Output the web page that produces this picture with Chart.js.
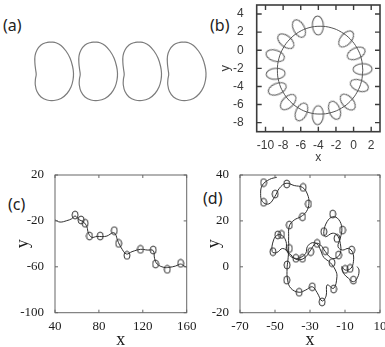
<!DOCTYPE html>
<html>
<head>
<meta charset="utf-8">
<script src="https://cdn.jsdelivr.net/npm/chart.js@4.4.1/dist/chart.umd.min.js"></script>
<style>
  html, body { margin: 0; padding: 0; background: #fff; }
  body { width: 385px; height: 347px; position: relative; overflow: hidden; }
  canvas { position: absolute; }
  .tag { position: absolute; font-family: 'Noto Sans', sans-serif; font-size: 16px; line-height: 16px; color: #222; }
</style>
</head>
<body>
<div class="tag" style="left:3px;top:17px">(a)</div>
<div class="tag" style="left:210px;top:17px">(b)</div>
<div class="tag" style="left:8px;top:196px">(c)</div>
<div class="tag" style="left:203px;top:190px">(d)</div>
<canvas id="chartA" width="180" height="66" style="left:30px;top:38px"></canvas>
<canvas id="chartB" width="185" height="165" style="left:200px;top:0px"></canvas>
<canvas id="chartC" width="200" height="190" style="left:0px;top:165px"></canvas>
<canvas id="chartD" width="195" height="190" style="left:190px;top:165px"></canvas>
<script>
// (a) one cell outline, repeated four times along x
const kidneyX = [17, 22, 27, 32, 36, 38.5, 39.5, 39, 37, 33, 27, 20, 13, 7, 3, 1.3, 1.4, 2.2, 1.6, 0.9, 1, 3, 7, 12, 17];
const kidneyY = [0, 0.8, 3.5, 9, 16, 24, 31, 38, 45, 51.5, 56.5, 58.5, 58, 55, 49.5, 43, 37.5, 32.5, 27.5, 21, 14, 8, 3, 0.7, 0];
const kidneyLeft = [0, 44, 88, 132.5];

// (b) circular orbit with loops
const bTicksX = [-10, -8, -6, -4, -2, 0, 2];
const bTicksY = [-8, -6, -4, -2, 0, 2, 4];
const circleCenter = [-3.8, -2.2];
const circleX = [1.05, 0.89, 0.4, -0.37, -1.38, -2.55, -3.8, -5.06, -6.23, -7.23, -8.0, -8.49, -8.65, -8.49, -8.0, -7.23, -6.23, -5.06, -3.8, -2.55, -1.38, -0.37, 0.4, 0.89, 1.05];
const circleY = [-2.2, -0.95, 0.23, 1.23, 2.0, 2.49, 2.65, 2.49, 2.0, 1.23, 0.23, -0.95, -2.2, -3.46, -4.63, -5.63, -6.4, -6.89, -7.05, -6.89, -6.4, -5.63, -4.63, -3.46, -2.2];
const petalX = [-4.05, -6.2, -7.7, -8.9, -8.85, -8.67, -7.43, -5.92, -4.05, -2.16, -0.66, 0.66, 1.03, 0.3, -0.84];
const petalY = [2.74, 2.4, 1.0, -0.6, -2.6, -4.27, -5.73, -6.82, -7.18, -6.64, -5.73, -3.9, -2.09, -0.35, 1.25];

// (c) drifting trajectory
const cTicksX = [40, 80, 120, 160];
const cTicksY = [-100, -60, -20, 20];
const pathCX = [40, 44.6, 50.7, 55.3, 58.3, 61.4, 66.0, 69.0, 70.5, 73.6, 78.2, 82.7, 87.3, 92.8, 95.0, 97.1, 100.1, 105.0, 110.2, 117.9, 124.0, 129.5, 130.7, 133.1, 139.2, 143.8, 149.9, 154.5, 157.5, 160.6];
const pathCY = [-19.2, -21.0, -19.8, -18.1, -15.7, -18.6, -21.0, -25.0, -30.8, -34.3, -33.5, -33.7, -33.2, -30.3, -31.4, -37.2, -43.0, -48.8, -46.8, -44.8, -45.4, -45.9, -52.6, -57.6, -60.5, -60.5, -59.3, -57.6, -59.3, -60.5];
const loopCX = [58.3, 63.8, 67.5, 71.4, 81.2, 94.0, 98.0, 105.6, 117.9, 129.5, 131.6, 142.3, 154.5];
const loopCY = [-14.9, -19.2, -22.1, -33.2, -33.2, -28.5, -39.6, -50.0, -44.8, -45.4, -57.6, -62.2, -57.0];

// (d) wandering trajectory
const dTicksX = [-70, -50, -30, -10, 10];
const dTicksY = [-20, 0, 20, 40];
const pathDX = [-49.0, -53.1, -57.2, -58.2, -57.2, -53.5, -50.1, -47.5, -43.7, -39.0, -34.3, -31.5, -30.6, -32.1, -35.3, -39.0, -41.8, -42.2, -42.2, -42.6, -43.1, -42.8, -40.9, -36.2, -32.4, -28.7, -25.9, -23.1, -20.8, -20.2, -16.5, -14.6, -15.5, -18.4, -22.1, -24.0, -25.9, -28.7, -31.5, -32.4, -35.3, -38.5, -41.8, -43.3, -43.7, -45.6, -48.4, -50.8, -51.6, -49.0, -45.6, -41.8, -38.1, -33.4, -29.6, -26.8, -24.0, -21.2, -18.4, -15.5, -12.7, -12.7, -14.6, -17.4, -21.2, -22.1, -20.2, -17.0, -13.7, -11.8, -12.7, -14.0, -11.4, -8.0, -5.6, -5.2, -6.7, -9.9, -11.8, -10.8, -8.0, -5.2, -2.8, -2.0, -3.1];
const pathDY = [39.0, 38.1, 35.6, 32.0, 28.4, 27.4, 30.6, 34.2, 36.4, 35.4, 34.6, 31.7, 27.7, 24.0, 21.8, 20.4, 17.8, 13.1, 7.3, 3.0, -0.7, -5.8, -9.4, -11.1, -10.1, -8.7, -11.3, -14.9, -12.7, -7.9, -9.4, -4.3, -1.4, 1.8, 4.1, 7.3, 9.9, 10.5, 8.8, 5.9, 4.1, 3.7, 5.1, 8.0, 11.0, 13.4, 13.9, 11.7, 6.6, 6.2, 8.0, 5.9, 3.3, 3.7, 7.3, 10.2, 9.5, 6.6, 4.1, 3.7, 5.9, 10.2, 13.9, 14.6, 13.1, 15.3, 19.7, 21.8, 20.7, 16.8, 12.4, 8.8, 7.3, 8.0, 6.2, 2.2, -0.7, -1.4, 0.1, -2.8, -5.0, -6.5, -4.6, -1.4, 0.1];
const loopDX = [-56.5, -56.5, -49.9, -43.3, -33.9, -30.9, -34.3, -41.8, -46.3, -51.2, -43.1, -43.3, -36.2, -28.7, -23.1, -16.5, -38.1, -34.3, -25.9, -21.2, -17.4, -22.1, -17.0, -11.4, -14.6, -6.2, -7.1, -5.2, -9.9, -41.8, -48.4, -29.6, -13.7];
const loopDY = [36.7, 28.1, 31.7, 36.1, 34.6, 27.4, 21.8, 18.2, 14.1, 6.6, 0.8, -5.8, -11.1, -8.7, -15.3, -9.7, 3.7, 3.7, 10.2, 7.0, 1.8, 15.3, 23.0, 16.0, 12.4, 7.3, -0.7, -5.8, -1.1, 8.0, 13.9, 6.6, 5.1];

const toPoints = (xs, ys) => xs.map((x, i) => ({ x: x, y: ys[i] }));

function ringImage(w, h, color, lw) {
  const c = document.createElement('canvas');
  c.width = w + 2;
  c.height = h + 2;
  const g = c.getContext('2d');
  g.strokeStyle = color;
  g.lineWidth = lw;
  g.beginPath();
  g.ellipse(c.width / 2, c.height / 2, w / 2, h / 2, 0, 0, Math.PI * 2);
  g.stroke();
  return c;
}

// box around the plot area plus short ticks pointing inwards on every side
const framePlugin = {
  id: 'frame',
  afterDraw(chart, args, opts) {
    const { ctx, chartArea: a, scales } = chart;
    ctx.save();
    ctx.strokeStyle = opts.color;
    ctx.lineWidth = opts.width;
    ctx.strokeRect(a.left, a.top, a.right - a.left, a.bottom - a.top);
    ctx.lineWidth = opts.tickWidth;
    ctx.beginPath();
    scales.x.ticks.forEach(t => {
      const px = scales.x.getPixelForValue(t.value);
      ctx.moveTo(px, a.bottom); ctx.lineTo(px, a.bottom - opts.len);
      ctx.moveTo(px, a.top); ctx.lineTo(px, a.top + opts.len);
    });
    scales.y.ticks.forEach(t => {
      const py = scales.y.getPixelForValue(t.value);
      ctx.moveTo(a.left, py); ctx.lineTo(a.left + opts.len, py);
      ctx.moveTo(a.right, py); ctx.lineTo(a.right - opts.len, py);
    });
    ctx.stroke();
    ctx.restore();
  }
};

function axis(o) {
  return {
    type: 'linear',
    position: o.position,
    min: o.min,
    max: o.max,
    grid: { display: false },
    border: { display: false },
    afterBuildTicks: s => { s.ticks = o.ticks.map(v => ({ value: v })); },
    afterFit: s => {
      if (o.position === 'left') s.width = o.size; else s.height = o.size;
      s.paddingLeft = 0; s.paddingRight = 0; s.paddingTop = 0; s.paddingBottom = 0;
    },
    ticks: {
      autoSkip: false,
      maxRotation: 0,
      padding: o.tickPad,
      color: o.color,
      font: o.font,
      callback: v => String(v)
    },
    title: {
      display: true,
      text: o.title,
      color: o.color,
      font: o.titleFont,
      padding: o.position === 'left' ? { top: o.titlePad, bottom: 0 } : { top: 0, bottom: o.titlePad }
    }
  };
}

const baseOptions = {
  responsive: false,
  animation: false,
  events: [],
  plugins: { legend: { display: false }, tooltip: { enabled: false } }
};

// ---- (a)
new Chart(document.getElementById('chartA'), {
  type: 'scatter',
  data: {
    datasets: kidneyLeft.map(off => ({
      data: kidneyX.map((x, i) => ({ x: x + off, y: kidneyY[i] })),
      showLine: true,
      tension: 0.4,
      borderColor: '#7c7c7c',
      borderWidth: 1.2,
      pointRadius: 0
    }))
  },
  options: Object.assign({}, baseOptions, {
    layout: { padding: 0 },
    scales: {
      x: { type: 'linear', display: false, min: -4, max: 176 },
      y: { type: 'linear', display: false, min: -4, max: 62, reverse: true }
    }
  })
});

// ---- (b)
const sansTick = { family: "'Liberation Sans', Arial, sans-serif", size: 12 };
const petalImg = ringImage(11, 19, '#606060', 1.1);
new Chart(document.getElementById('chartB'), {
  type: 'scatter',
  data: {
    datasets: [
      {
        data: toPoints(circleX, circleY),
        showLine: true,
        tension: 0.4,
        borderColor: '#555',
        borderWidth: 1,
        pointRadius: 0
      },
      {
        data: toPoints(petalX, petalY),
        showLine: false,
        pointRadius: 3,
        pointStyle: petalImg,
        rotation: ctx => {
          const p = ctx.raw;
          if (!p) return 0;
          const ang = Math.atan2(p.y - circleCenter[1], p.x - circleCenter[0]) * 180 / Math.PI;
          return 90 - ang;
        }
      }
    ]
  },
  options: Object.assign({}, baseOptions, {
    layout: { padding: { top: 3.3, right: 4, left: 0, bottom: 0 } },
    scales: {
      x: axis({ position: 'bottom', min: -11, max: 3, ticks: bTicksX, size: 33.3, tickPad: -1, color: '#3a3a3a',
        font: sansTick, title: 'x', titleFont: { family: "'Liberation Sans', Arial, sans-serif", size: 12 }, titlePad: 0 }),
      y: axis({ position: 'left', min: -9, max: 5, ticks: bTicksY, size: 56.7, tickPad: 5, color: '#3a3a3a',
        font: sansTick, title: 'y', titleFont: { family: "'Liberation Sans', Arial, sans-serif", size: 13 }, titlePad: 18 })
    },
    plugins: Object.assign({}, baseOptions.plugins, { frame: { color: '#3c3c3c', width: 1.6, tickWidth: 1.4, len: 5 } })
  }),
  plugins: [framePlugin]
});

// ---- (c) and (d)
const serifTick = { family: "'Liberation Serif', 'Times New Roman', serif", size: 13 };
const serifTitle = { family: "'Liberation Serif', 'Times New Roman', serif", size: 18 };
const smallLoop = ringImage(6, 8, '#333', 1);

function trajectoryChart(id, px, py, lx, ly, o) {
  return new Chart(document.getElementById(id), {
    type: 'scatter',
    data: {
      datasets: [
        {
          data: toPoints(px, py),
          showLine: true,
          tension: 0.4,
          borderColor: '#2e2e2e',
          borderWidth: 1,
          pointRadius: 0
        },
        {
          data: toPoints(lx, ly),
          showLine: false,
          pointRadius: 3,
          pointStyle: smallLoop
        }
      ]
    },
    options: Object.assign({}, baseOptions, {
      layout: { padding: { top: 10, right: o.right, left: 0, bottom: 0 } },
      scales: {
        x: axis({ position: 'bottom', min: o.xMin, max: o.xMax, ticks: o.xTicks, size: 42.3, tickPad: -2, color: '#1a1a1a',
          font: serifTick, title: 'x', titleFont: serifTitle, titlePad: 4 }),
        y: axis({ position: 'left', min: o.yMin, max: o.yMax, ticks: o.yTicks, size: o.left, tickPad: 3, color: '#1a1a1a',
          font: serifTick, title: 'y', titleFont: serifTitle, titlePad: o.yTitlePad })
      },
      plugins: Object.assign({}, baseOptions.plugins, { frame: { color: '#666', width: 1, tickWidth: 1, len: 3 } })
    }),
    plugins: [framePlugin]
  });
}

trajectoryChart('chartC', pathCX, pathCY, loopCX, loopCY,
  { xMin: 40, xMax: 160, yMin: -100, yMax: 20, xTicks: cTicksX, yTicks: cTicksY, left: 55, right: 13.3, yTitlePad: 12 });
trajectoryChart('chartD', pathDX, pathDY, loopDX, loopDY,
  { xMin: -70, xMax: 10, yMin: -20, yMax: 40, xTicks: dTicksX, yTicks: dTicksY, left: 50, right: 3, yTitlePad: 13 });
</script>
</body>
</html>
